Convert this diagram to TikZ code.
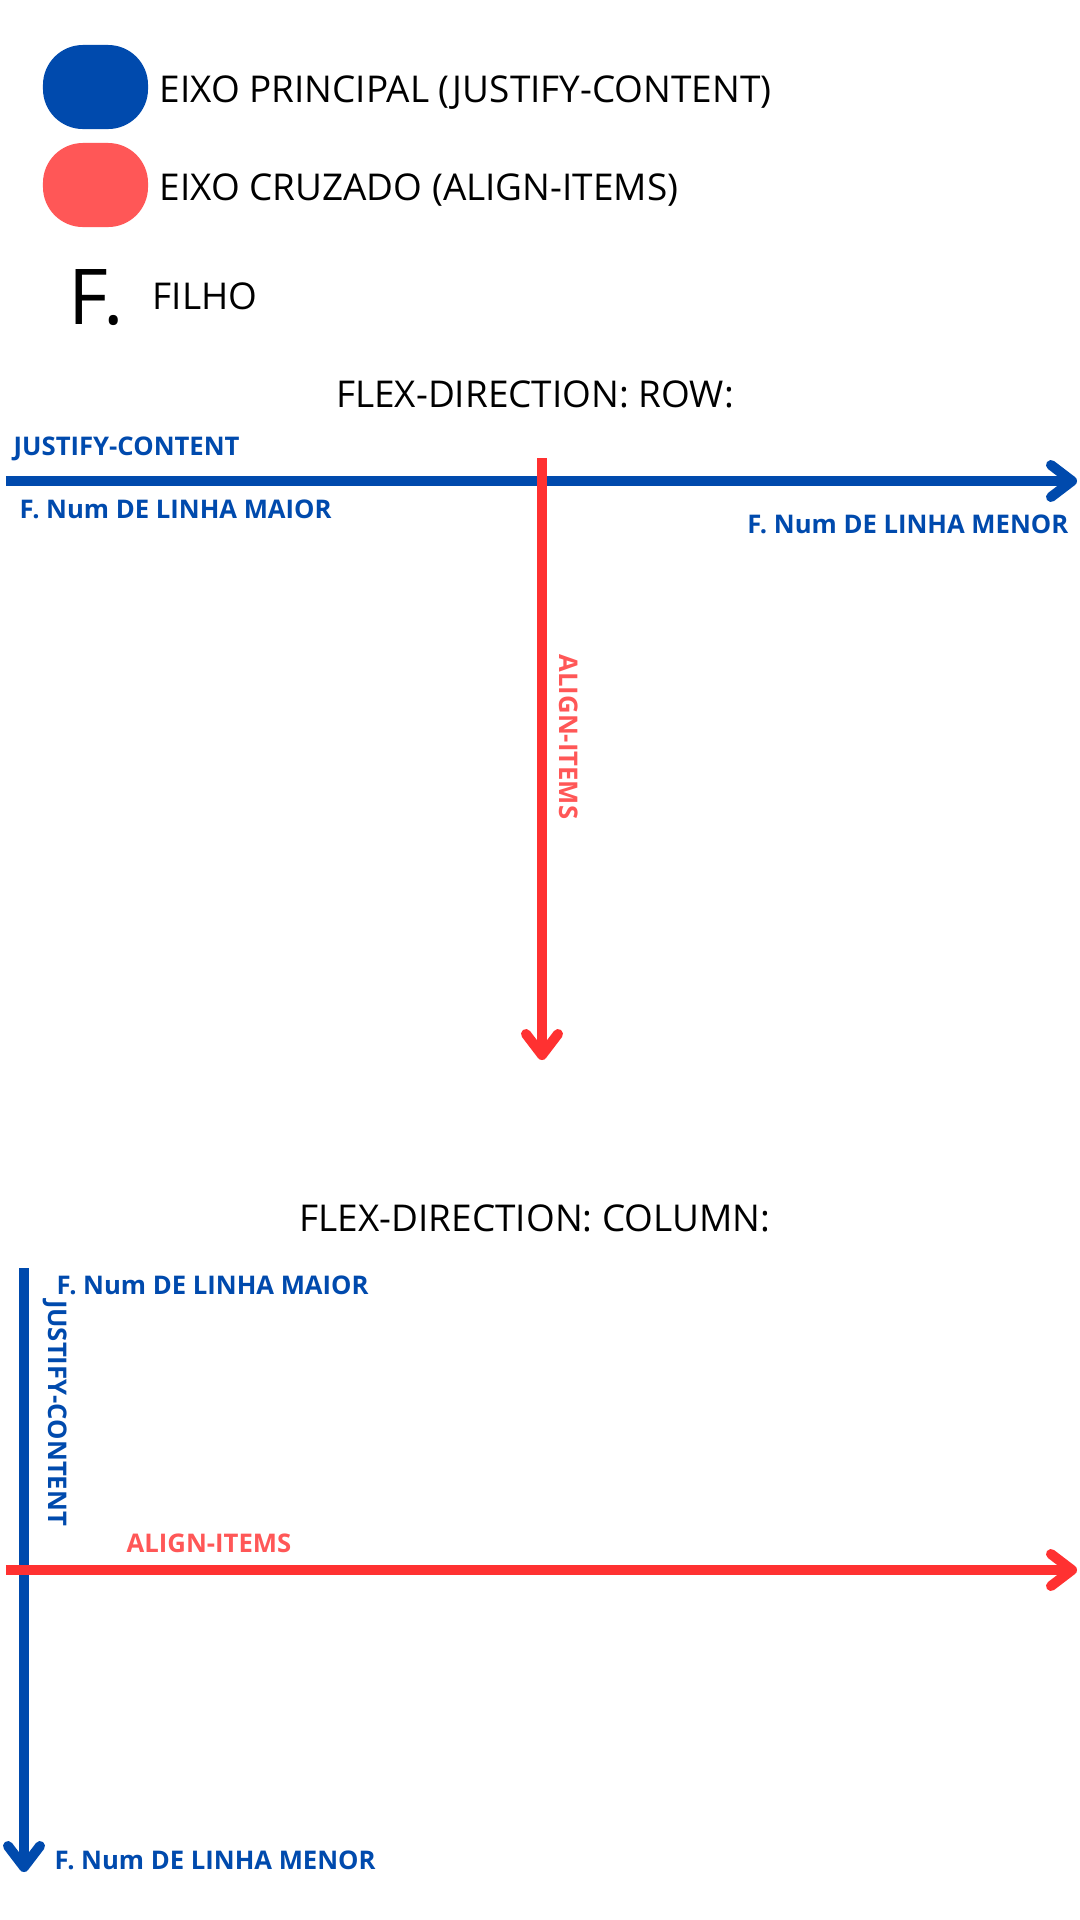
\documentclass[tikz,border=0pt]{standalone}
\usepackage{fontspec}
\setmainfont{Open Sans}
\usetikzlibrary{arrows.meta}
\definecolor{eixoblue}{HTML}{004AAD}
\definecolor{eixored}{HTML}{FF3131}
\definecolor{labelred}{HTML}{FF5757}

\begin{document}
\begin{tikzpicture}[x=0.01cm, y=-0.01cm,
	legendtext/.style={anchor=base west, inner sep=0pt, font=\fontsize{10.5}{12}\selectfont},
	titletext/.style={anchor=base, inner sep=0pt, font=\fontsize{10.5}{12}\selectfont},
	bluelabel/.style={inner sep=0pt, text=eixoblue, font=\fontsize{7.3}{9}\selectfont\bfseries},
	redlabel/.style={inner sep=0pt, text=labelred, font=\fontsize{7.3}{9}\selectfont\bfseries},
	axisline/.style={line width=0.1cm, -{Straight Barb[length=0.21cm, width=0.32cm, round]}},
	blob/.style={rounded corners=0.4cm, minimum width=1.05cm, minimum height=0.84cm, inner sep=0pt}]
			%%%%% START %%%%%
			
			\useasboundingbox (0,0) rectangle (1080,1920);
			\fill[white] (0,0) rectangle (1080,1920);
			
			% legenda
			\node[blob, fill=eixoblue] (keymain) at (95.5,87) {};
			\node[legendtext] (keymaintext) at (159,102) {EIXO PRINCIPAL (JUSTIFY-CONTENT)};
			\node[blob, fill=labelred] (keycross) at (95.5,185) {};
			\node[legendtext] (keycrosstext) at (159,200) {EIXO CRUZADO (ALIGN-ITEMS)};
			\node[anchor=base west, inner sep=0pt, font=\fontsize{21.9}{24}\selectfont] (keyf) at (68,324) {F.};
			\node[legendtext] (keyftext) at (152,309) {FILHO};
			
			% flex-direction: row
			\node[titletext] (rowtitle) at (535,407) {FLEX-DIRECTION: ROW:};
			\coordinate (rowmainA) at (6,481);
			\coordinate (rowmainB) at (1077,481);
			\coordinate (rowcrossA) at (542,458);
			\coordinate (rowcrossB) at (542,1060);
			\draw[axisline, eixoblue] (rowmainA) -- (rowmainB);
			\draw[axisline, eixored] (rowcrossA) -- (rowcrossB);
			\node[bluelabel, anchor=base west] (rowjustify) at (13,455) {JUSTIFY-CONTENT};
			\node[bluelabel, anchor=base west] (rowmaior) at (19,518) {F. Num DE LINHA MAIOR};
			\node[bluelabel, anchor=base east] (rowmenor) at (1069,533) {F. Num DE LINHA MENOR};
			\node[redlabel, rotate=-90] (rowalign) at (569,737) {ALIGN-ITEMS};
			
			% flex-direction: column
			\node[titletext] (coltitle) at (535,1231) {FLEX-DIRECTION: COLUMN:};
			\coordinate (colmainA) at (24,1268);
			\coordinate (colmainB) at (24,1872);
			\coordinate (colcrossA) at (6,1570);
			\coordinate (colcrossB) at (1077,1570);
			\draw[axisline, eixoblue] (colmainA) -- (colmainB);
			\draw[axisline, eixored] (colcrossA) -- (colcrossB);
			\node[bluelabel, anchor=base west] (colmaior) at (56,1294) {F. Num DE LINHA MAIOR};
			\node[bluelabel, rotate=-90] (coljustify) at (55,1413) {JUSTIFY-CONTENT};
			\node[redlabel, anchor=base west] (colalign) at (126,1552) {ALIGN-ITEMS};
			\node[bluelabel, anchor=base west] (colmenor) at (54,1869) {F. Num DE LINHA MENOR};
			
			%%%%% END %%%%%
\end{tikzpicture}
\end{document}
